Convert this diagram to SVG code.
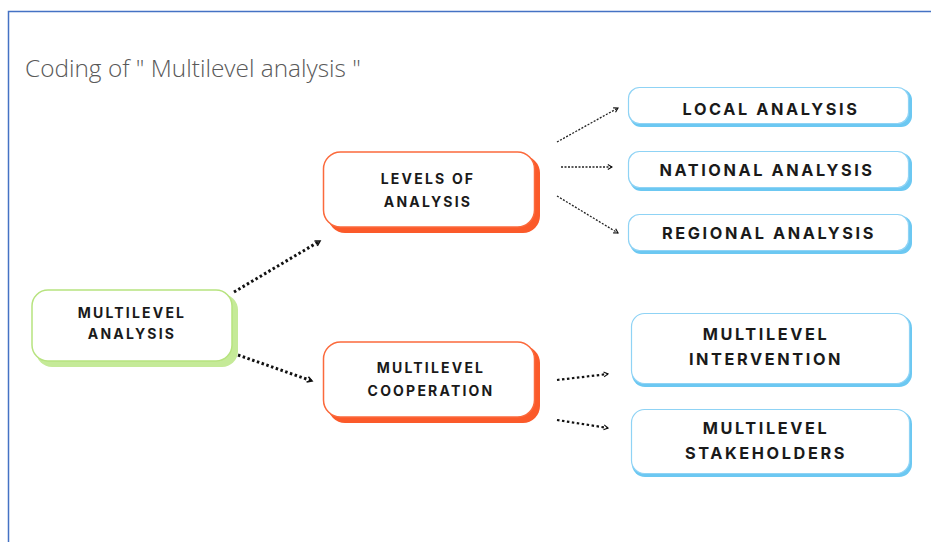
<svg xmlns="http://www.w3.org/2000/svg" width="931" height="542" viewBox="0 0 931 542">
<defs>
<style>
.lbl{font-family:Inter,"Liberation Sans",sans-serif;font-weight:700;font-size:14px;letter-spacing:2.2px;fill:#1a1a1a;text-anchor:middle}
.lblb{font-family:Inter,"Liberation Sans",sans-serif;font-weight:700;font-size:16.3px;letter-spacing:2.6px;fill:#1a1a1a;text-anchor:middle}
.green-s{fill:#c5ea98}
.green{fill:#fff;stroke:#b7e37f;stroke-width:1.5}
.orange-s{fill:#fb5a2a}
.orange{fill:#fff;stroke:#fb6a3c;stroke-width:1.5}
.blue-s{fill:#6cc8f2}
.blue{fill:#fff;stroke:#8fd3f5;stroke-width:1.2}
.thick{fill:none;stroke:#111;stroke-width:3;stroke-dasharray:2.5 2.5}
.thin{fill:none;stroke:#222;stroke-width:1.3;stroke-dasharray:2 1.5}
</style>
<marker id="ah2" viewBox="0 0 10 10" refX="8" refY="5" markerWidth="7" markerHeight="7" orient="auto" markerUnits="userSpaceOnUse">
<path d="M2,1.5 L8,5 L2,8.5" fill="none" stroke="#111" stroke-width="1.6"/>
</marker>
<marker id="ah3" viewBox="0 0 10 10" refX="8" refY="5" markerWidth="8" markerHeight="8" orient="auto" markerUnits="userSpaceOnUse">
<path d="M2,1.5 L8,5 L2,8.5" fill="none" stroke="#111" stroke-width="2"/>
</marker>
</defs>
<rect width="931" height="542" fill="#fff"/>
<path d="M8.5,542 V11.5 H931" fill="none" stroke="#4472c4" stroke-width="1.5"/>
<text x="25" y="77" font-family="'Open Sans','Liberation Sans',sans-serif" font-size="24.4" font-weight="300" fill="#595959">Coding of " Multilevel analysis "</text>

<g id="connectors">
<path class="thick" d="M234,292 L320,241" marker-end="url(#ah3)"/>
<path class="thick" d="M238,355 L312,381" marker-end="url(#ah3)"/>
<path class="thin" d="M557,142 L618,108" marker-end="url(#ah2)"/>
<path class="thin" d="M561,167 L612,167" marker-end="url(#ah2)"/>
<path class="thin" d="M557,196 L618,233" marker-end="url(#ah2)"/>
<path class="thick" style="stroke-width:2.2" d="M557,380 L608,374" marker-end="url(#ah2)"/>
<path class="thick" style="stroke-width:2.2" d="M557,420 L608,428" marker-end="url(#ah2)"/>
</g>

<g id="n-multilevel-analysis">
<rect class="green-s" x="36" y="294" width="202" height="73" rx="16"/>
<rect class="green" x="32" y="290" width="200" height="71" rx="16"/>
<text class="lbl" x="132" y="318">MULTILEVEL</text>
<text class="lbl" x="132" y="339">ANALYSIS</text>
</g>

<g id="n-levels">
<rect class="orange-s" x="328" y="156" width="212" height="77" rx="17"/>
<rect class="orange" x="323.5" y="152" width="211" height="75" rx="17"/>
<text class="lbl" x="428" y="184">LEVELS OF</text>
<text class="lbl" x="428" y="207">ANALYSIS</text>
</g>

<g id="n-cooperation">
<rect class="orange-s" x="328" y="346" width="212" height="77" rx="17"/>
<rect class="orange" x="323.5" y="342" width="211" height="75" rx="17"/>
<text class="lbl" x="431" y="373">MULTILEVEL</text>
<text class="lbl" x="431" y="396">COOPERATION</text>
</g>

<g id="n-local">
<rect class="blue-s" x="630" y="89" width="282" height="38" rx="11"/>
<rect class="blue" x="628.5" y="87.5" width="280" height="36" rx="11"/>
<text class="lblb" x="771" y="115">LOCAL ANALYSIS</text>
</g>

<g id="n-national">
<rect class="blue-s" x="630" y="153" width="282" height="38" rx="11"/>
<rect class="blue" x="628.5" y="151.5" width="280" height="36" rx="11"/>
<text class="lblb" x="767" y="176">NATIONAL ANALYSIS</text>
</g>

<g id="n-regional">
<rect class="blue-s" x="630" y="216" width="282" height="38" rx="11"/>
<rect class="blue" x="628.5" y="214.5" width="280" height="36" rx="11"/>
<text class="lblb" x="769" y="239">REGIONAL ANALYSIS</text>
</g>

<g id="n-intervention">
<rect class="blue-s" x="632" y="315" width="280" height="72" rx="13"/>
<rect class="blue" x="631.5" y="313.5" width="278" height="70" rx="13"/>
<text class="lblb" x="766" y="340">MULTILEVEL</text>
<text class="lblb" x="766" y="365">INTERVENTION</text>
</g>

<g id="n-stakeholders">
<rect class="blue-s" x="632" y="411" width="280" height="66" rx="13"/>
<rect class="blue" x="631.5" y="409.5" width="278" height="64" rx="13"/>
<text class="lblb" x="766" y="434">MULTILEVEL</text>
<text class="lblb" x="766" y="459">STAKEHOLDERS</text>
</g>
</svg>
